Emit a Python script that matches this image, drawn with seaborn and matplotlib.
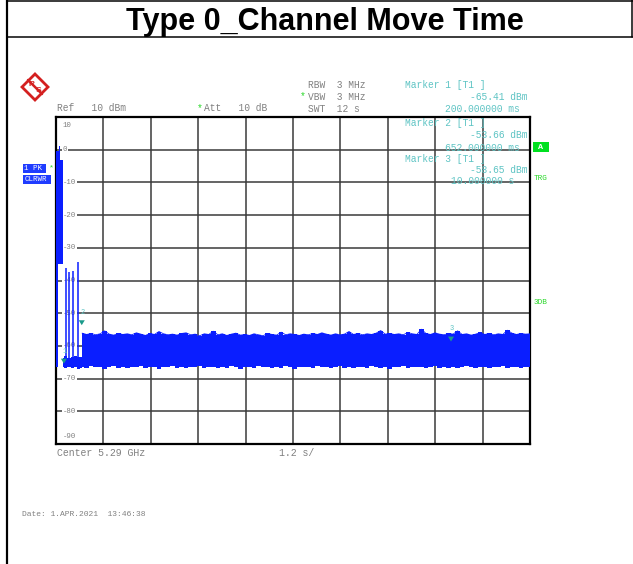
import numpy as np
import matplotlib
matplotlib.use("Agg")
import matplotlib.pyplot as plt
from matplotlib.lines import Line2D
from matplotlib.patches import Rectangle, Polygon
from matplotlib.markers import MarkerStyle
import seaborn as sns

W, H = 633, 564

# --- trace values (time in s, level in dBm) ---
burst_t = [0.00, 0.03, 0.06, 0.085, 0.11, 0.14, 0.17]
burst_top = [-0.3, -0.3, -0.3, 1.1, -3.1, -3.1, -3.1]
burst_bot = [-66.5, -66.5, -35.0, -35.0, -35.0, -35.0, -35.0]

floor_t = [0.17, 0.25, 0.33, 0.41, 0.49, 0.57, 0.65]
floor_top = [-63.6, -63.2, -63.8, -63.4, -63.0, -63.5, -63.3]
floor_bot = [-66.5, -66.9, -66.4, -66.8, -66.6, -67.0, -66.7]

spike_t = [0.246, 0.337, 0.438, 0.549]
spike_db = [-36.3, -37.5, -37.1, -34.4]

band_top = [
    -56.1, -56.5, -56.2, -56.6, -56.3, -55.4, -56.4, -56.7, -56.2, -56.5,
    -56.3, -56.6, -56.0, -56.4, -56.8, -56.2, -56.5, -55.6, -56.3, -56.6,
    -56.4, -56.7, -56.2, -56.0, -56.6, -56.4, -56.9, -56.3, -56.5, -55.5,
    -56.6, -56.3, -56.8, -56.4, -56.1, -56.7, -56.5, -56.8, -56.3, -56.6,
    -56.9, -56.2, -56.5, -56.7, -55.8, -56.6, -56.3, -56.5, -56.8, -56.4,
    -56.6, -56.2, -56.5, -56.0, -56.4, -56.7, -56.3, -56.6, -56.4, -55.6,
    -56.5, -56.2, -56.6, -56.3, -56.5, -56.1, -55.3, -56.4, -56.2, -56.5,
    -56.3, -56.6, -55.9, -56.3, -56.5, -54.9, -56.2, -56.5, -56.0, -56.4,
    -56.6, -56.2, -56.4, -55.4, -56.5, -56.3, -56.7, -56.4, -55.9, -56.5,
    -56.2, -56.6, -56.3, -56.5, -55.2, -56.1, -56.5, -56.2, -56.4, -56.3,
]
band_bot = [
    -66.4, -66.9, -66.2, -66.6, -66.3, -67.0, -66.5, -66.1, -66.7, -66.4,
    -66.8, -66.3, -66.6, -66.2, -66.9, -66.5, -66.3, -67.1, -66.4, -66.6,
    -66.2, -66.7, -66.4, -66.9, -66.3, -66.6, -66.1, -66.8, -66.5, -66.3,
    -66.9, -66.4, -66.7, -66.2, -66.6, -67.0, -66.3, -66.5, -66.8, -66.2,
    -66.6, -66.3, -66.9, -66.4, -66.7, -66.2, -66.5, -67.0, -66.3, -66.6,
    -66.4, -66.8, -66.2, -66.6, -66.3, -66.9, -66.5, -66.1, -66.7, -66.4,
    -66.7, -66.3, -66.6, -66.9, -66.2, -66.5, -66.8, -66.4, -67.0, -66.3,
    -66.5, -66.2, -66.8, -66.4, -66.6, -66.3, -66.9, -66.5, -66.2, -66.7,
    -66.3, -66.7, -66.4, -66.9, -66.5, -66.2, -66.6, -66.8, -66.3, -66.5,
    -66.8, -66.4, -66.6, -66.2, -66.9, -66.5, -66.3, -66.7, -66.4, -66.6,
]
band_t = np.linspace(0.66, 12.0, len(band_top))

marker_t = [0.200, 0.652, 10.0]
marker_db = [-65.41, -53.66, -58.65]
marker_id = ["1", "2", "3"]

level_ticks = [10, 0, -10, -20, -30, -40, -50, -60, -70, -80, -90]

BLUE = "#0a1eff"
GRAY = "#808080"
CYAN = "#5ec4c4"
GREEN = "#2ad82a"
RED = "#d42020"
MONO = "Liberation Mono"

sns.set_style("white")
plt.rcParams["font.family"] = ["Liberation Sans", "DejaVu Sans"]

fig = plt.figure(figsize=(W / 100, H / 100), dpi=100)


def px(x, y):
    return x / W, 1 - y / H


def txt(x, y, s, color=GRAY, size=6.9, ha="left", **kw):
    fig.text(*px(x, y), s, color=color, fontsize=size, family=MONO,
             ha=ha, va="center", **kw)


# page frame + title box
for (x0, y0, x1, y1, lw) in [(7.5, 0, 7.5, H, 2.2), (7, 1, W, 1, 1.5),
                             (7, 37, W, 37, 1.5), (632, 0, 632, 37, 1.5)]:
    fig.add_artist(Line2D([x0 / W, x1 / W], [1 - y0 / H, 1 - y1 / H],
                          color="black", lw=lw * 0.72))
fig.text(*px(325, 30), "Type 0_Channel Move Time", fontsize=22,
         fontweight="bold", ha="center", va="baseline", color="black")

# screen grid
ax = fig.add_axes([56 / W, 1 - 444 / H, 474 / W, 327 / H])
ax.set_xlim(0, 12)
ax.set_ylim(-90, 10)
ax.set_xticks(np.arange(0, 12.01, 1.2))
ax.set_yticks(level_ticks)
ax.grid(True, color="#3a3a3a", lw=1.1)
ax.tick_params(length=0, labelbottom=False, labelleft=False)
for s in ax.spines.values():
    s.set_color("black")
    s.set_linewidth(1.6)

for v in level_ticks:
    yv = 7.3 if v == 10 else (-87.8 if v == -90 else v)
    ax.text(0.58 / 39.5, yv, str(v), transform=ax.get_yaxis_transform(),
            fontsize=5.3, family=MONO, color=GRAY, ha="left", va="center",
            zorder=1, bbox=dict(fc="white", ec="none", pad=0.6))

# trace
ax.fill_between(burst_t, burst_bot, burst_top, step="post", color=BLUE,
                lw=0, zorder=3)
ax.fill_between(floor_t, floor_bot, floor_top, step="mid", color=BLUE,
                lw=0, zorder=3)
ax.fill_between(band_t, band_bot, band_top, step="mid", color=BLUE,
                lw=0, zorder=3)
sns.lineplot(x=band_t, y=band_top, ax=ax, color=BLUE, lw=0.6,
             estimator=None, zorder=3)
ax.vlines(spike_t, -66.0, spike_db, color=BLUE, lw=1.1, zorder=3)

# markers (tip of triangle sits on the value)
tri = MarkerStyle([(0, 0), (-0.8, 1.3), (0.8, 1.3), (0, 0)])
sns.scatterplot(x=marker_t, y=marker_db, ax=ax, marker=tri, s=50,
                color="#1a9a8a", edgecolor="none", zorder=5, legend=False)
for t, d, m in zip(marker_t, marker_db, marker_id):
    ax.annotate(m, (t, d), xytext=(0.5, 9), textcoords="offset points",
                fontsize=5, family=MONO, color=CYAN, ha="center",
                va="center", zorder=5)

# header readouts
txt(57, 108, "Ref   10 dBm")
txt(200, 108, "*", color=GREEN, ha="center")
txt(204, 108, "Att   10 dB")
txt(308, 85, "RBW  3 MHz")
txt(303, 96.5, "*", color=GREEN, ha="center")
txt(308, 96.5, "VBW  3 MHz")
txt(308, 109, "SWT  12 s")

txt(405, 85, "Marker 1 [T1 ]", color=CYAN)
txt(527, 96.5, "-65.41 dBm", color=CYAN, ha="right")
txt(520, 109, "200.000000 ms", color=CYAN, ha="right")
txt(405, 123, "Marker 2 [T1 ]", color=CYAN)
txt(527, 135, "-53.66 dBm", color=CYAN, ha="right")
txt(520, 147.5, "652.000000 ms", color=CYAN, ha="right")
txt(405, 159, "Marker 3 [T1 ]", color=CYAN)
txt(527, 170.5, "-58.65 dBm", color=CYAN, ha="right")
txt(514, 181.5, "10.000000 s", color=CYAN, ha="right")

# side annotations
fig.add_artist(Rectangle(px(533, 152), 16 / W, 10 / H, transform=fig.transFigure,
                         color="#00e020", lw=0))
txt(541, 147, "A", color="white", size=6, ha="center", fontweight="bold")
txt(534, 178, "TRG", color=GREEN, size=5.6)
txt(534, 302, "3DB", color=GREEN, size=5.6)

fig.add_artist(Rectangle(px(23, 173), 23 / W, 9.5 / H, transform=fig.transFigure,
                         color="#1f3cff", lw=0))
txt(24.5, 168.3, "1 PK", color="white", size=5.4)
txt(51, 168.3, "*", color=GREEN, ha="center", size=6)
fig.add_artist(Rectangle(px(23, 184), 28 / W, 9.5 / H, transform=fig.transFigure,
                         color="#1f3cff", lw=0))
txt(24.5, 179.3, "CLRWR", color="white", size=5.4)

# R&S logo
dia = [px(35, 74), px(48, 87), px(35, 100), px(22, 87)]
fig.add_artist(Polygon(dia, closed=True, transform=fig.transFigure,
                       fc="white", ec=RED, lw=2.0))
fig.add_artist(Line2D([28 / W, 42 / W], [1 - 80 / H, 1 - 94 / H],
                      color=RED, lw=1.8))
fig.text(*px(31.5, 84), "R", fontsize=6, fontweight="bold", color=RED,
         ha="center", va="center")
fig.text(*px(38.5, 90.5), "S", fontsize=6, fontweight="bold", color=RED,
         ha="center", va="center")

# footer readouts
txt(57, 453.5, "Center 5.29 GHz", size=7.1)
txt(279, 453.5, "1.2 s/", size=7.1)
txt(22, 514, "Date: 1.APR.2021  13:46:38", size=5.8)

fig.savefig("out.png", dpi=100)
